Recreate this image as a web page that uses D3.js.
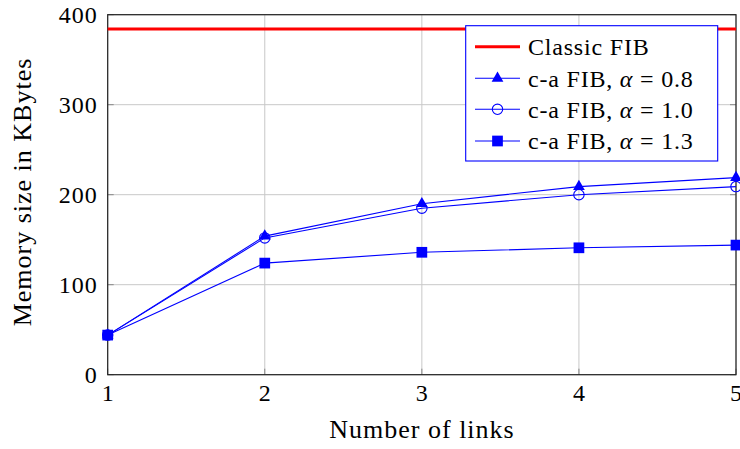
<!DOCTYPE html>
<html><head><meta charset="utf-8">
<script src="https://cdn.jsdelivr.net/npm/d3@7"></script>
<style>body{margin:0;background:#fff}svg{display:block}text{font-family:"Liberation Serif","DejaVu Serif",serif;fill:#000}</style>
</head><body>
<svg id="c" width="740" height="449"></svg>
<script>
const links = [1, 2, 3, 4, 5];
const classicFIB = [384, 384, 384, 384, 384];
const alpha08 = [44, 154, 190, 209, 219];
const alpha10 = [44, 152, 185, 200, 209];
const alpha13 = [44, 124, 136, 141, 144];
const yTicks = [0, 100, 200, 300, 400];
const seriesNames = ["Classic FIB", "c-a FIB, \u03b1 = 0.8", "c-a FIB, \u03b1 = 1.0", "c-a FIB, \u03b1 = 1.3"];

const svg = d3.select("#c");
const L = 107.7, R = 736, T = 14.7, B = 374.7;
const x = d3.scaleLinear().domain([1, 5]).range([L, R]);
const y = d3.scaleLinear().domain([0, 400]).range([B, T]);
const blue = "#0000ff";

// grid
const g = svg.append("g");
g.selectAll(".hg").data(yTicks).join("line")
  .attr("x1", L).attr("x2", R).attr("y1", d => y(d)).attr("y2", d => y(d))
  .attr("stroke", "#c8c8c8").attr("stroke-width", 1);
g.selectAll(".vg").data(links).join("line")
  .attr("y1", T).attr("y2", B).attr("x1", d => x(d)).attr("x2", d => x(d))
  .attr("stroke", "#c8c8c8").attr("stroke-width", 1);

// axes via d3
const xAxis = d3.axisBottom(x).tickValues(links).tickFormat(d3.format("d")).tickSize(0).tickPadding(10);
const yAxis = d3.axisLeft(y).tickValues(yTicks).tickSize(0).tickPadding(10);
const xa = svg.append("g").attr("transform", `translate(0,${B})`).call(xAxis);
const ya = svg.append("g").attr("transform", `translate(${L},0)`).call(yAxis);
[xa, ya].forEach(a => {
  a.select(".domain").remove();
  a.selectAll("text").style("font-size", "24px").style("letter-spacing", "1px").attr("fill", "#000");
});
xa.selectAll("text").attr("dy", "0.68em");
ya.selectAll("text").attr("dy", "0.33em");

// small inner tick marks
svg.selectAll(".xt").data(links).join("line")
  .attr("x1", d => x(d)).attr("x2", d => x(d)).attr("y1", B).attr("y2", B - 6)
  .attr("stroke", "#888");
svg.selectAll(".yt").data(yTicks).join("line")
  .attr("x1", L).attr("x2", L + 6).attr("y1", d => y(d)).attr("y2", d => y(d))
  .attr("stroke", "#888");
svg.selectAll(".yt2").data(yTicks).join("line")
  .attr("x1", R).attr("x2", R - 6).attr("y1", d => y(d)).attr("y2", d => y(d))
  .attr("stroke", "#888");

// frame
svg.append("rect").attr("x", L).attr("y", T).attr("width", R - L).attr("height", B - T)
  .attr("fill", "none").attr("stroke", "#222").attr("stroke-width", 1.2);

// data
const line = d3.line().x((d, i) => x(links[i])).y(d => y(d));
svg.append("path").datum(classicFIB).attr("d", line).attr("fill", "none")
  .attr("stroke", "#ff0000").attr("stroke-width", 3);

const tri = d3.symbol().type(d3.symbolTriangle).size(60);
const sq = d3.symbol().type(d3.symbolSquare).size(115);

function drawSeries(vals, marker) {
  svg.append("path").datum(vals).attr("d", line).attr("fill", "none")
    .attr("stroke", blue).attr("stroke-width", 1.1);
  const gg = svg.append("g");
  vals.forEach((v, i) => marker(gg, x(links[i]), y(v)));
}
const mTri = (gg, cx, cy) => gg.append("path").attr("d", tri()).attr("transform", `translate(${cx},${cy})`).attr("fill", blue);
const mCirc = (gg, cx, cy) => gg.append("circle").attr("cx", cx).attr("cy", cy).attr("r", 5.2).attr("fill", "none").attr("stroke", blue).attr("stroke-width", 1.1);
const mSq = (gg, cx, cy) => gg.append("path").attr("d", sq()).attr("transform", `translate(${cx},${cy})`).attr("fill", blue);

drawSeries(alpha08, mTri);
drawSeries(alpha10, mCirc);
drawSeries(alpha13, mSq);

// axis titles
svg.append("text").attr("x", 422).attr("y", 438).attr("text-anchor", "middle")
  .style("font-size", "26px").style("letter-spacing", "1px").text("Number of links");
svg.append("text").attr("transform", `translate(31,192) rotate(-90)`)
  .attr("text-anchor", "middle").style("font-size", "26px").style("letter-spacing", "1px").text("Memory size in KBytes");

// legend
const lg = svg.append("g");
lg.append("rect").attr("x", 465.7).attr("y", 25.7).attr("width", 252).attr("height", 135.3)
  .attr("fill", "#fff").attr("stroke", blue).attr("stroke-width", 1.1);
const ly = [46.7, 78.3, 109.3, 141];
const markers = [null, mTri, mCirc, mSq];
seriesNames.forEach((name, i) => {
  lg.append("line").attr("x1", 475).attr("x2", 520).attr("y1", ly[i]).attr("y2", ly[i])
    .attr("stroke", i === 0 ? "#ff0000" : blue).attr("stroke-width", i === 0 ? 3 : 1.1);
  if (markers[i]) markers[i](lg, 497.5, ly[i]);
  const t = lg.append("text").attr("x", 528).attr("y", ly[i]).attr("dy", "0.35em")
    .style("font-size", "24px").style("letter-spacing", "0.8px");
  if (i === 0) t.text(name);
  else {
    const parts = name.split("\u03b1");
    t.append("tspan").text(parts[0]);
    t.append("tspan").style("font-style", "italic").text("\u03b1");
    t.append("tspan").text(parts[1]);
  }
});
</script>
</body></html>
